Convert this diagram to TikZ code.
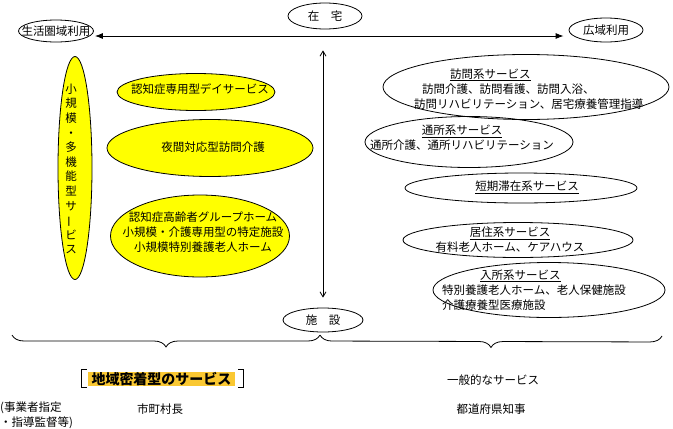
\documentclass[tikz,border=0pt]{standalone}
\usepackage{fontspec}
\setmainfont{Noto Sans CJK JP}
\usetikzlibrary{positioning,arrows.meta,shapes.geometric,decorations.pathreplacing}
\definecolor{ovalclr}{RGB}{255,255,0}
\definecolor{goldclr}{RGB}{250,200,50}
\newcommand{\jp}{\fontsize{11.5}{15}\selectfont}
\tikzset{
    oval/.style={ellipse,draw,line width=0.8pt,inner sep=0pt,font=\jp},
    yoval/.style={oval,fill=ovalclr},
    txt/.style={inner sep=0pt,font=\jp,align=center},
    ltxt/.style={txt,align=left,anchor=west},
    edge/.style={line width=0.8pt},
    harrow/.style={edge,{Latex[length=8pt,width=6pt]}-{Latex[length=8pt,width=6pt]}},
    varrow/.style={edge,{Straight Barb[length=5pt,width=6pt]}-{Straight Barb[length=5pt,width=6pt]}},
    brace/.style={edge,decorate,decoration={brace,mirror,amplitude=12pt}},
}

\begin{document}
\begin{tikzpicture}[x=1pt,y=-1pt]
\useasboundingbox (0,0) rectangle (673,429);

% top row
\node[oval,minimum width=74pt,minimum height=26pt] (zaitaku) at (325,16) {在　宅};
\node[oval,minimum width=75pt,minimum height=22pt] (seikatsu) at (56,31) {};
\node[txt] (seikatsut) at (seikatsu) {生活圏域利用};
\node[oval,minimum width=74pt,minimum height=24pt] (kouiki) at (606,30) {};
\node[txt] (kouikit) at (kouiki) {広域利用};
\node[oval,minimum width=80pt,minimum height=24pt] (shisetsu) at (323,320) {施　設};

\draw[harrow,shorten <=1pt,shorten >=5pt] ([yshift=-5pt]seikatsu.east) -- ([yshift=-5pt]seikatsu.east -| kouiki.west);
\draw[varrow,shorten <=21pt,shorten >=10pt] (shisetsu.north |- zaitaku.south) -- (shisetsu.north);

% community based (left)
\node[yoval,minimum width=34pt,minimum height=223pt] (shoki) at (75,168) {};
\node[txt,font=\fontsize{11.5}{14.6}\selectfont] (shokit) at (71,169) {小\\規\\模\\・\\多\\機\\能\\型\\サ\\\rotatebox[origin=c]{90}{ー}\\ビ\\ス};
\node[yoval,minimum width=158pt,minimum height=37pt] (day) at (196,92) {};
\node[txt] (dayt) at (200,89) {認知症専用型デイサービス};
\node[yoval,minimum width=206pt,minimum height=57pt] (yakan) at (210,148) {};
\node[txt] (yakant) at (213,147) {夜間対応型訪問介護};
\node[yoval,minimum width=179pt,minimum height=82pt] (gh) at (200,236) {};
\node[txt] (ght) at (203,232) {認知症高齢者グループホーム\\小規模・介護専用型の特定施設\\小規模特別養護老人ホーム};

% general services (right)
\node[oval,minimum width=286pt,minimum height=65pt] (houmon) at (526,87) {};
\node[ltxt] (houmont) at (414,89) {\hspace{36pt}\underline{訪問系サービス}\\\hspace{8pt}訪問介護、訪問看護、訪問入浴、\\訪問リハビリテーション、居宅療養管理指導};
\node[oval,minimum width=208pt,minimum height=51pt] (tsusho) at (469,142) {};
\node[txt] (tsushot) at (462,138) {\underline{通所系サービス}\\通所介護、通所リハビリテーション};
\node[oval,minimum width=232pt,minimum height=30pt] (tanki) at (521,188) {};
\node[txt] (tankit) at (527,187) {\underline{短期滞在系サービス}};
\node[oval,minimum width=230pt,minimum height=35pt] (kyoju) at (518,240) {};
\node[txt] (kyojut) at (510,240) {\underline{居住系サービス}\\有料老人ホーム、ケアハウス};
\node[oval,minimum width=232pt,minimum height=55pt] (nyusho) at (549,290) {};
\node[ltxt] (nyushot) at (442,290) {\hspace{38pt}\underline{入所系サービス}\\特別養護老人ホーム、老人保健施設\\介護療養型医療施設};

% braces
\coordinate (bl) at (12,335);
\coordinate (bm) at (320,335);
\coordinate (br) at (662,336);
\draw[brace] (bl) -- (bm);
\draw[brace] (bm) -- (br);

% bottom labels
\node[fill=goldclr,inner sep=0pt,minimum width=147pt,minimum height=14pt,font=\fontsize{14}{14}\selectfont\bfseries] (chiiki) at (161.5,379) {地域密着型のサービス};
\draw[edge] ([xshift=-1pt,yshift=2pt]chiiki.north west) -- ([xshift=-6pt,yshift=2pt]chiiki.north west) -- ([xshift=-6pt,yshift=-1pt]chiiki.south west) -- ([xshift=-1pt,yshift=-1pt]chiiki.south west);
\draw[edge] ([xshift=3pt,yshift=2pt]chiiki.north east) -- ([xshift=8pt,yshift=2pt]chiiki.north east) -- ([xshift=8pt,yshift=-1pt]chiiki.south east) -- ([xshift=3pt,yshift=-1pt]chiiki.south east);
\node[txt] (ippan) at (493,380) {一般的なサービス};
\node[txt] (shicho) at (160,409) {市町村長};
\node[txt] (chiji) at (491,409) {都道府県知事};
\node[ltxt] (jigyo) at (0,415.5) {(事業者指定\\・指導監督等)};
\end{tikzpicture}
\end{document}
